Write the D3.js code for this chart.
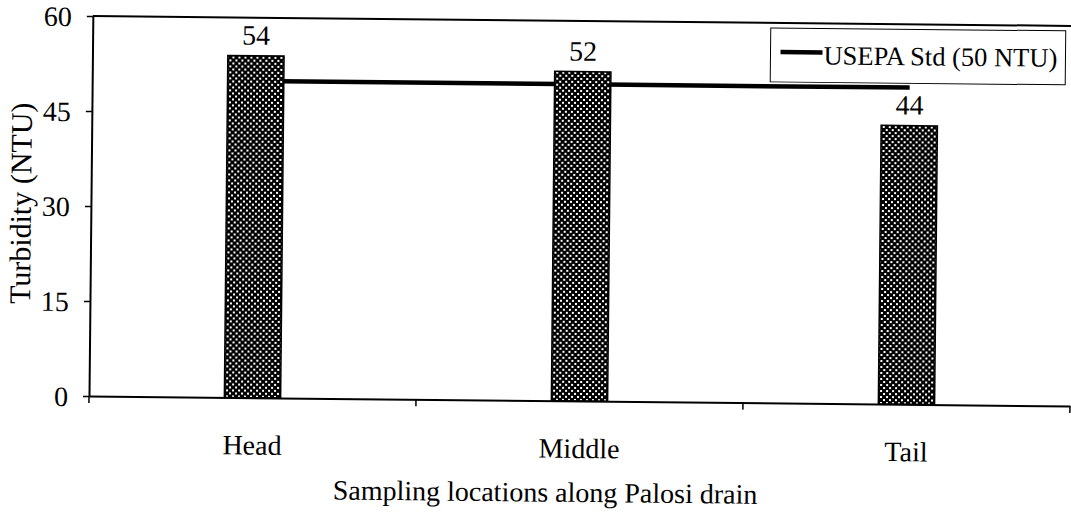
<!DOCTYPE html>
<html>
<head>
<meta charset="utf-8">
<script src="https://cdn.jsdelivr.net/npm/d3@7"></script>
<style>
  body { margin: 0; background: #fff; }
  text { font-family: "Liberation Serif", "Times New Roman", serif; fill: #000; }
</style>
</head>
<body>
<svg id="svgchart"></svg>
<script>
'use strict'

// chart data:
const categories = ["Head", "Middle", "Tail"]
const turbidity  = [54, 52, 44]
const usepaStd   = [50, 50, 50]
const yTicks     = [0, 15, 30, 45, 60]
const legendLabel = "USEPA Std (50 NTU)"

const chartWidth  = 1071,
      chartHeight = 514

const plotLeft = 89, plotRight = 1070, plotTop = 16, plotBottom = 396
const fontSize = 28

const svg = d3.select("#svgchart")
  .attr("width", chartWidth)
  .attr("height", chartHeight)

svg.append("rect").attr("width", chartWidth).attr("height", chartHeight).attr("fill", "#fff")

// dotted fill of the bars:
const pattern = svg.append("defs").append("pattern")
  .attr("id", "dots")
  .attr("patternUnits", "userSpaceOnUse")
  .attr("width", 6).attr("height", 6)
pattern.append("rect").attr("width", 6).attr("height", 6).attr("fill", "#000")
pattern.append("rect").attr("x", 1).attr("y", 1).attr("width", 2).attr("height", 2).attr("fill", "#fff")
pattern.append("rect").attr("x", 4).attr("y", 4).attr("width", 2).attr("height", 2).attr("fill", "#fff")

// the scanned figure is slightly tilted:
const g = svg.append("g").attr("transform", `rotate(0.58, ${plotLeft}, ${plotBottom})`)

const x = d3.scaleBand().domain(categories).range([plotLeft, plotRight])
const y = d3.scaleLinear().domain([0, 60]).range([plotBottom, plotTop])
const barWidth = x.bandwidth() * 0.172

// top border of the plot area:
g.append("line")
  .attr("x1", plotLeft).attr("x2", plotRight)
  .attr("y1", plotTop).attr("y2", plotTop)
  .attr("stroke", "#000").attr("stroke-width", 2)

// USEPA standard line (behind the bars):
const stdLine = d3.line()
  .x((d, i) => x(categories[i]) + x.bandwidth() / 2)
  .y(d => y(d))
g.append("path")
  .datum(usepaStd)
  .attr("d", stdLine)
  .attr("fill", "none")
  .attr("stroke", "#000")
  .attr("stroke-width", 4.5)

// bars:
g.append("g").selectAll("rect")
  .data(turbidity)
  .enter().append("rect")
    .attr("x", (d, i) => x(categories[i]) + (x.bandwidth() - barWidth) / 2)
    .attr("y", d => y(d))
    .attr("width", barWidth)
    .attr("height", d => y(0) - y(d))
    .attr("fill", "url(#dots)")
    .attr("stroke", "#000")
    .attr("stroke-width", 1.5)

// value labels:
g.append("g").selectAll("text")
  .data(turbidity)
  .enter().append("text")
    .attr("x", (d, i) => x(categories[i]) + x.bandwidth() / 2)
    .attr("y", d => y(d) - 11)
    .attr("text-anchor", "middle")
    .attr("font-size", fontSize)
    .text(d => d)

// y axis:
const yAxis = g.append("g")
  .attr("transform", `translate(${plotLeft},0)`)
  .call(d3.axisLeft(y).tickValues(yTicks).tickSize(6).tickSizeOuter(0).tickPadding(15))
yAxis.select(".domain").attr("stroke-width", 2)
yAxis.selectAll(".tick line").attr("stroke-width", 1.5)
yAxis.selectAll(".tick text")
  .attr("font-size", fontSize)
  .attr("font-family", null)
  .attr("dy", "0.35em")

// x axis:
const xAxis = g.append("g")
  .attr("transform", `translate(0,${plotBottom})`)
  .call(d3.axisBottom(x).tickSize(0).tickSizeOuter(0))
xAxis.select(".domain").attr("stroke-width", 2)
xAxis.selectAll(".tick text")
  .attr("font-size", fontSize)
  .attr("font-family", null)
  .attr("dy", null)
  .attr("y", 57)

// tick marks at the category boundaries:
xAxis.selectAll(".boundary")
  .data(categories.map(c => x(c)).concat([plotRight]))
  .enter().append("line")
    .attr("class", "boundary")
    .attr("x1", d => d).attr("x2", d => d)
    .attr("y1", 0).attr("y2", 7)
    .attr("stroke", "#000").attr("stroke-width", 1.5)

// axis titles:
g.append("text")
  .attr("x", 546).attr("y", 497)
  .attr("text-anchor", "middle")
  .attr("font-size", fontSize)
  .text("Sampling locations along Palosi drain")

g.append("text")
  .attr("transform", "translate(29,204) rotate(-90)")
  .attr("text-anchor", "middle")
  .attr("font-size", 30)
  .text("Turbidity (NTU)")

// legend:
const legend = g.append("g").attr("transform", "translate(767,21)")
legend.append("rect")
  .attr("width", 295).attr("height", 54)
  .attr("fill", "#fff")
  .attr("stroke", "#000").attr("stroke-width", 1)
legend.append("line")
  .attr("x1", 10).attr("x2", 52)
  .attr("y1", 24).attr("y2", 24)
  .attr("stroke", "#000").attr("stroke-width", 4.5)
legend.append("text")
  .attr("x", 53).attr("y", 36)
  .attr("font-size", 26.5)
  .text(legendLabel)
</script>
</body>
</html>
